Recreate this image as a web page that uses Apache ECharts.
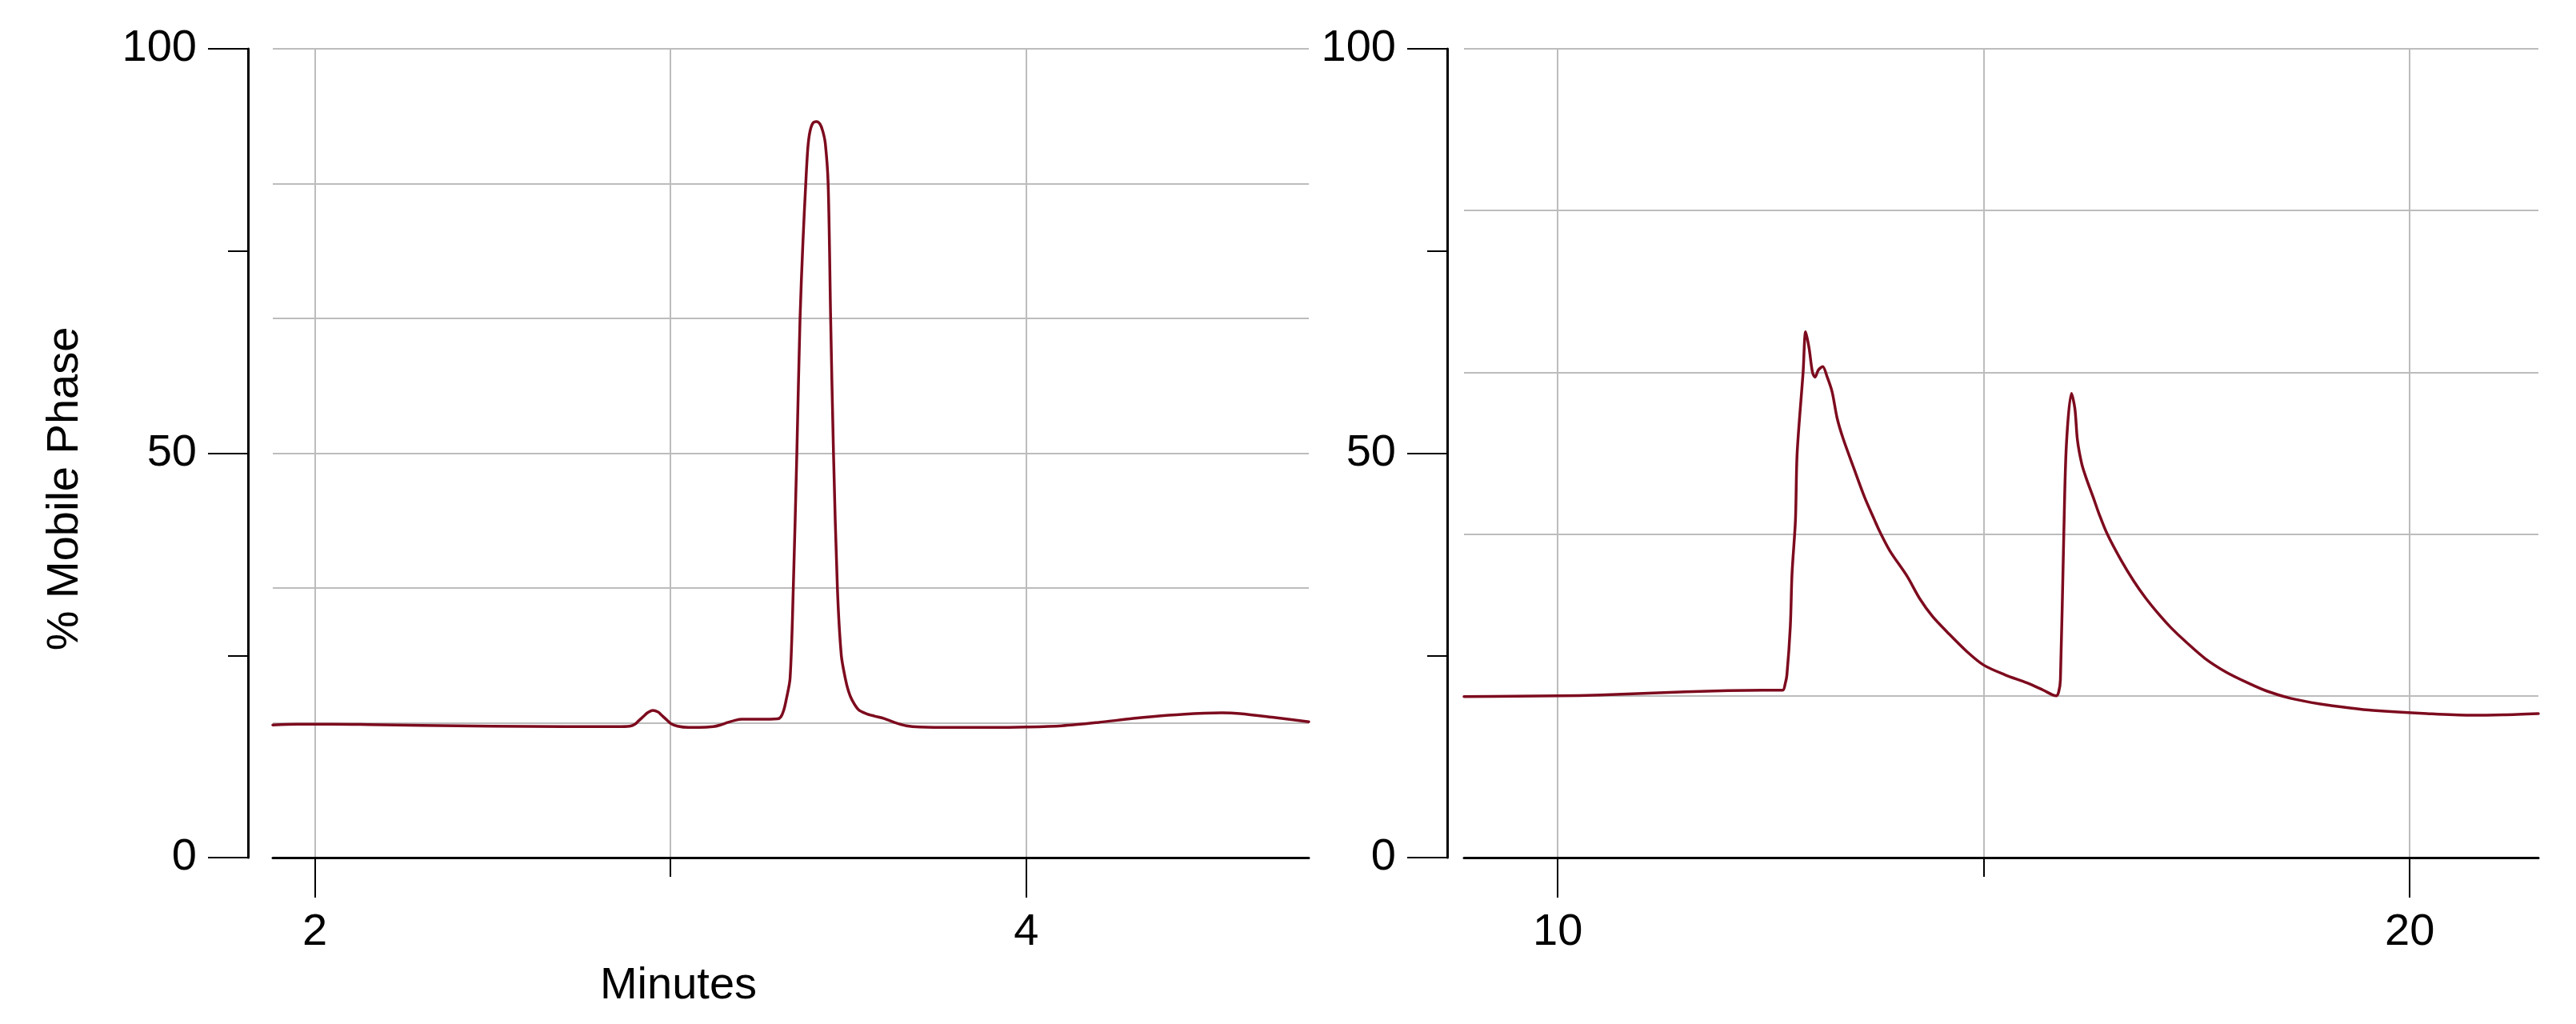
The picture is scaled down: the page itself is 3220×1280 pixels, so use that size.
<!DOCTYPE html>
<html><head><meta charset="utf-8">
<script src="https://cdn.jsdelivr.net/npm/echarts@6/dist/echarts.min.js"></script>
<style>html,body{margin:0;padding:0;background:#fff}#c{width:3220px;height:1280px}</style>
</head><body><div id="c"></div>
<script>
// ---- data (minutes, % mobile phase) ----
const leftTime = [1.882,1.95,2.05,2.15,2.3,2.5,2.7,2.85,2.885,2.9,2.91,2.925,2.935,2.95,2.965,2.975,2.985,3.0,3.02,3.05,3.08,3.12,3.14,3.16,3.184,3.2,3.25,3.30,3.31,3.318,3.325,3.336,3.345,3.355,3.364,3.372,3.380,3.386,3.392,3.40,3.41,3.42,3.428,3.435,3.443,3.450,3.458,3.469,3.480,3.491,3.50,3.51,3.528,3.55,3.573,3.6,3.63,3.663,3.7,3.8,3.9,4.0,4.1,4.2,4.3,4.4,4.5,4.55,4.6,4.7,4.794];
const leftValue = [16.4,16.5,16.5,16.45,16.35,16.25,16.2,16.2,16.25,16.5,16.9,17.5,17.9,18.2,18.0,17.6,17.2,16.6,16.25,16.1,16.1,16.2,16.4,16.7,17.0,17.1,17.1,17.15,17.4,18.2,19.5,22.2,33.3,50,66.7,76,83.3,87.8,89.8,90.8,91.0,90.7,89.8,88.3,83.3,66.7,50,33.3,25,22.2,20.6,19.5,18.3,17.8,17.5,17.2,16.7,16.3,16.15,16.1,16.1,16.15,16.3,16.7,17.2,17.6,17.85,17.9,17.8,17.3,16.8];
const rightTime = [8.90,9.5,10.0,10.5,11.0,11.5,12.0,12.4,12.64,12.67,12.69,12.73,12.75,12.79,12.81,12.88,12.91,12.95,12.99,13.02,13.06,13.11,13.16,13.22,13.28,13.35,13.47,13.60,13.72,13.78,13.9,14.10,14.25,14.4,14.57,14.8,15.00,15.25,15.51,15.7,15.85,15.88,15.90,15.94,15.97,16.03,16.07,16.10,16.15,16.2,16.29,16.35,16.45,16.61,16.76,16.9,17.07,17.2,17.38,17.6,17.85,18.1,18.32,18.6,18.95,19.3,19.57,20.2,20.7,21.1,21.51];
const rightValue = [19.9,19.95,20.0,20.1,20.3,20.5,20.65,20.7,20.7,21.5,22.6,28.6,35.1,41.7,50.0,60,65.0,63,60,59.4,60.3,60.7,59.5,57.6,54.3,51.8,48.3,44.6,41.7,40.3,37.9,34.8,32.0,29.8,27.9,25.5,23.8,22.6,21.6,20.7,20.0,20.5,22.0,40.1,51.0,57.4,55.5,51.6,48.7,47.0,44.4,42.6,40.0,36.8,34.2,32.1,29.9,28.4,26.6,24.6,22.9,21.6,20.6,19.7,19.0,18.5,18.2,17.8,17.6,17.65,17.8];

const leftRange = [1.882, 4.794];
const rightRange = [8.90, 21.51];
const leftGridX = [2, 3, 4];
const leftLabelX = [2, 4];
const rightGridX = [10, 15, 20];
const rightLabelX = [10, 20];
const yRange = [0, 100];
const yLabelStep = 50;
const leftGridYStep = 100 / 6;
const rightGridYStep = 20;
const xTitle = 'Minutes';
const yTitle = '% Mobile Phase';

const FONT = 'Liberation Sans, Arial, sans-serif';
const FS = 56;
const lineColor = '#7d0b1e';
const gridColor = '#bcbcbc';

function pairs(t, v) { return t.map((x, i) => [x, v[i]]); }

function xAxes(gridIndex, range, gridVals, labelVals) {
  return [
    {
      type: 'value', gridIndex, position: 'bottom', min: range[0], max: range[1],
      axisLine: { show: true, onZero: false, lineStyle: { color: '#000', width: 3 } },
      axisTick: { show: true, customValues: gridVals, length: 24, lineStyle: { color: '#000', width: 2 } },
      axisLabel: { show: true, customValues: labelVals, margin: 66, color: '#000', fontSize: FS, fontFamily: FONT },
      splitLine: { show: true, lineStyle: { color: gridColor, width: 2 } }
    },
    {
      type: 'value', gridIndex, position: 'bottom', min: range[0], max: range[1],
      axisLine: { show: false, onZero: false },
      axisTick: { show: true, customValues: labelVals, length: 50, lineStyle: { color: '#000', width: 2 } },
      axisLabel: { show: false },
      splitLine: { show: false }
    }
  ];
}

function yAxes(gridIndex, offset, gridStep) {
  return [
    {
      type: 'value', gridIndex, position: 'left', offset, min: yRange[0], max: yRange[1], interval: yLabelStep,
      axisLine: { show: true, onZero: false, lineStyle: { color: '#000', width: 3 } },
      axisTick: { show: true, length: 50, lineStyle: { color: '#000', width: 2 } },
      minorTick: { show: true, splitNumber: 2, length: 25, lineStyle: { color: '#000', width: 2 } },
      axisLabel: { show: true, margin: 64, color: '#000', fontSize: FS, fontFamily: FONT },
      splitLine: { show: false }
    },
    {
      type: 'value', gridIndex, position: 'left', min: yRange[0], max: yRange[1], interval: gridStep,
      axisLine: { show: false, onZero: false },
      axisTick: { show: false },
      axisLabel: { show: false },
      splitLine: { show: true, lineStyle: { color: gridColor, width: 2 } }
    }
  ];
}

const chart = echarts.init(document.getElementById('c'), null, { renderer: 'canvas' });
chart.setOption({
  backgroundColor: '#fff',
  animation: false,
  grid: [
    { left: 341, top: 61, width: 1295, height: 1011 },
    { left: 1830, top: 61, width: 1343, height: 1011 }
  ],
  xAxis: [...xAxes(0, leftRange, leftGridX, leftLabelX), ...xAxes(1, rightRange, rightGridX, rightLabelX)],
  yAxis: [...yAxes(0, 31, leftGridYStep), ...yAxes(1, 21, rightGridYStep)],
  series: [
    { type: 'line', xAxisIndex: 0, yAxisIndex: 0, data: pairs(leftTime, leftValue), showSymbol: false,
      smooth: 0.3, lineStyle: { color: lineColor, width: 3.5, join: 'round', cap: 'round' }, z: 5 },
    { type: 'line', xAxisIndex: 2, yAxisIndex: 2, data: pairs(rightTime, rightValue), showSymbol: false,
      smooth: 0.3, lineStyle: { color: lineColor, width: 3.5, join: 'round', cap: 'round' }, z: 5 }
  ],
  graphic: [
    { type: 'text', x: 848, y: 1233, style: { text: xTitle, fontSize: FS, fontFamily: FONT, fill: '#000', align: 'center', verticalAlign: 'middle' } },
    { type: 'text', x: 82, y: 611, rotation: Math.PI / 2, style: { text: yTitle, fontSize: FS, fontFamily: FONT, fill: '#000', align: 'center', verticalAlign: 'middle' } }
  ]
});
</script>
</body></html>
